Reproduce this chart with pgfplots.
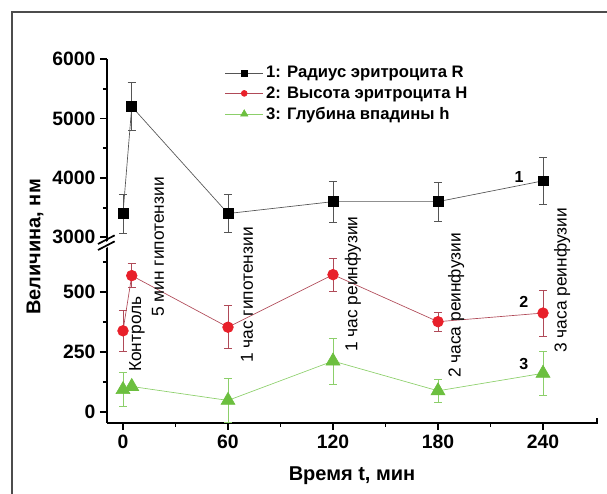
\documentclass[border=0pt]{standalone}
\usepackage{fontspec}
\setmainfont{Liberation Sans}
\usepackage{pgfplots}
\pgfplotsset{compat=1.18}
\definecolor{sqblack}{HTML}{000000}
\definecolor{lineblack}{HTML}{555555}
\definecolor{dotred}{HTML}{E8202A}
\definecolor{linered}{HTML}{B04A58}
\definecolor{trigreen}{HTML}{6CBF3F}
\definecolor{linegreen}{HTML}{8CCF6A}

\pgfplotsset{
  brokenaxis/.style={
    scale only axis,
    width=367.5pt,
    xmin=-9.14, xmax=270.86,
    clip=false,
    tick align=outside,
    major tick length=5.25pt,
    minor tick length=3pt,
    every tick/.style={black, line width=1.4pt},
    axis line style={line width=1.5pt},
    tick label style={font=\fontsize{14.5}{17}\selectfont\bfseries},
    /pgf/number format/assume math mode=true,
    /pgf/number format/1000 sep={},
    legend image code/.code={\draw[mark repeat=2,mark phase=2,##1,mark size=2.2pt]
      plot coordinates {(0cm,0cm) (0.5cm,0cm) (1cm,0cm)};},
  },
  ser1/.style={color=lineblack, line width=0.5pt, mark=square*, mark size=3.7pt,
    mark options={fill=sqblack, draw=sqblack},
    error bars/.cd, y dir=both, y explicit,
    error bar style={line width=0.5pt, color=lineblack},
    error mark options={rotate=90, mark size=3pt, line width=0.5pt}},
  ser2/.style={color=linered, line width=0.5pt, mark=*, mark size=4pt,
    mark options={fill=dotred, draw=dotred},
    error bars/.cd, y dir=both, y explicit,
    error bar style={line width=0.5pt, color=linered},
    error mark options={rotate=90, mark size=3pt, line width=0.5pt}},
  ser3/.style={color=linegreen, line width=0.5pt, mark=triangle*, mark size=6pt,
    mark options={fill=trigreen, draw=trigreen},
    error bars/.cd, y dir=both, y explicit,
    error bar style={line width=0.5pt, color=linegreen},
    error mark options={rotate=90, mark size=3pt, line width=0.5pt}},
}

\begin{document}
\begin{tikzpicture}
\useasboundingbox (0,0) rectangle (455.25pt,369.75pt);
% outer frame
\draw[gray!60!black, line width=1.2pt] (9pt,-2pt) -- (9pt,360.75pt) -- (458pt,360.75pt);

% lower part: 0 ... 700
\begin{axis}[brokenaxis,
  at={(80.25pt,52.5pt)}, anchor=south west,
  height=135.75pt,
  ymin=-47.1, ymax=707,
  axis x line*=bottom, axis y line*=left,
  xtick={0,60,120,180,240},
  minor xtick={30,90,150,210},
  ytick={0,250,500},
  minor ytick={125,375,625},
]
\addplot[ser2] coordinates {
  (0,337) +- (0,85)
  (5,567) +- (0,50)
  (60,352) +- (0,90)
  (120,571) +- (0,70)
  (180,375) +- (0,40)
  (240,411) +- (0,95)
};
\addplot[ser3] coordinates {
  (0,92) +- (0,70)
  (5,105) +- (0,0)
  (60,47) +- (0,90)
  (120,211) +- (0,95)
  (180,87) +- (0,48)
  (240,160) +- (0,93)
};
\begin{scope}[font=\fontsize{13}{15}\selectfont]
\node[rotate=90, anchor=west, inner sep=0pt] at (axis cs:8,165) {Контроль};
\node[rotate=90, anchor=west, inner sep=0pt] at (axis cs:20,395) {5 мин гипотензии};
\node[rotate=90, anchor=west, inner sep=0pt] at (axis cs:70.9,203) {1 час гипотензии};
\node[rotate=90, anchor=west, inner sep=0pt] at (axis cs:131.4,249) {1 час реинфузии};
\node[rotate=90, anchor=west, inner sep=0pt] at (axis cs:190.3,140) {2 часа реинфузии};
\node[rotate=90, anchor=west, inner sep=0pt] at (axis cs:250.9,245) {3 часа реинфузии};
\end{scope}
\node[font=\fontsize{12}{14}\selectfont\bfseries] at (axis cs:229,457) {2};
\node[font=\fontsize{12}{14}\selectfont\bfseries] at (axis cs:229,199) {3};
\end{axis}

% upper part: 3000 ... 6000
\begin{axis}[brokenaxis,
  at={(80.25pt,188.25pt)}, anchor=south west,
  height=137.25pt,
  ymin=2921, ymax=6000,
  axis x line=none, axis y line*=left,
  ytick={3000,4000,5000,6000},
  minor ytick={3500,4500,5500},
  legend style={draw=none, fill=none, at={(0.232,0.99)}, anchor=north west,
    font=\fontsize{12.5}{15}\selectfont\bfseries, cells={anchor=west},
    row sep=1pt},
]
\addplot[ser1] coordinates {
  (0,3400) +- (0,330)
  (5,5200) +- (0,400)
  (60,3400) +- (0,320)
  (120,3600) +- (0,350)
  (180,3600) +- (0,330)
  (240,3950) +- (0,400)
};
\addlegendentry{1: Радиус эритроцита R}
\addlegendimage{color=linered, line width=0.5pt, mark=*, mark options={fill=dotred, draw=dotred}}
\addlegendentry{2: Высота эритроцита H}
\addlegendimage{color=linegreen, line width=0.5pt, mark=triangle*, mark options={fill=trigreen, draw=trigreen, scale=1.4}}
\addlegendentry{3: Глубина впадины h}
\node[font=\fontsize{12}{14}\selectfont\bfseries] at (axis cs:226.3,4015) {1};
\end{axis}

% axis break
\fill[white] (76pt,186.5pt) -- (84pt,190.5pt) -- (84pt,186pt) -- (76pt,182pt) -- cycle;
\draw[line width=1.3pt] (73.5pt,182.25pt) -- (86pt,188.75pt);
\draw[line width=1.3pt] (73.5pt,186.75pt) -- (86pt,193.25pt);
% right end of x axis
\draw[line width=1.4pt] (447.75pt,52pt) -- (447.75pt,56.5pt);

% axis titles
\node[rotate=90, font=\fontsize{15}{18}\selectfont\bfseries] at (26.25pt,184.5pt) {Величина, нм};
\node[font=\fontsize{15}{18}\selectfont\bfseries] at (264pt,12.75pt) {Время t, мин};
\end{tikzpicture}
\end{document}
